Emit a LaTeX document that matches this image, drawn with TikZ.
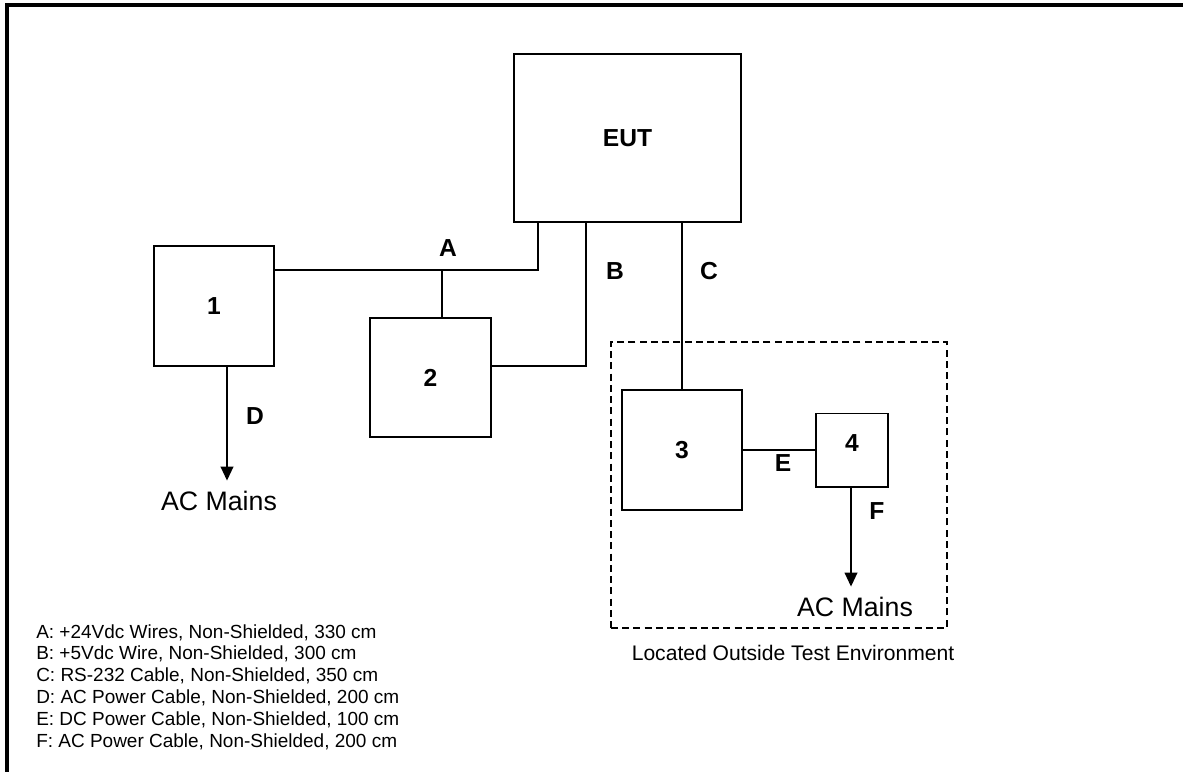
\documentclass[tikz,border=0pt]{standalone}
\usepackage{fontspec}
\setmainfont{Liberation Sans}
\usetikzlibrary{arrows.meta}
\tikzset{
  unit/.style={draw, line width=1.4pt, inner sep=0pt, font=\fontsize{17.5}{20}\selectfont\bfseries},
  cable/.style={line width=1.4pt},
  feed/.style={cable, -{Triangle[length=10pt, width=9pt]}, shorten >=4pt},
  tag/.style={font=\fontsize{17.5}{20}\selectfont\bfseries},
  mains/.style={font=\fontsize{19}{20}\selectfont},
  note/.style={font=\fontsize{15}{18}\selectfont},
}
\begin{document}
\begin{tikzpicture}[x=0.025cm, y=-0.025cm]
\useasboundingbox (0,0) rectangle (1183,771);
\draw[line width=2.2pt] (7,780) -- (7,5) -- (1190,5);
\node[unit, minimum width=5.675cm, minimum height=4.2cm] (eut) at (627.5,138) {EUT};
\node[unit, minimum size=3cm] (u1) at (214,306) {1};
\node[unit, minimum width=3.025cm, minimum height=2.975cm] (u2) at (430.5,377.5) {2};
\node[unit, minimum size=3cm] (u3) at (682,450) {3};
\node[unit, minimum width=1.8cm, minimum height=1.825cm, text depth=10pt] (u4) at (852,450) {4};
\node[draw, line width=1.4pt, dash pattern=on 5pt off 3pt, minimum width=8.4cm, minimum height=7.15cm] (outside) at (779,485) {};
\node[note] (where) at (793,653) {Located Outside Test Environment};
\node[mains] (mainsD) at (219,501) {AC Mains};
\node[mains] (mainsF) at (855,607) {AC Mains};
\coordinate (ja) at (442,270);
\draw[cable] (u1.east |- ja) -- (ja) -| (eut.south -| 538,0);
\draw[cable] (ja) -- (u2.north -| ja);
\draw[cable] (eut.south -| 586,0) |- (u2.east |- 0,366);
\draw[cable] (eut.south -| u3.north) -- (u3.north);
\draw[cable] (u3.east |- u4.west) -- (u4.west);
\draw[feed] (u1.south -| 227,0) -- (mainsD.north -| 227,0);
\draw[feed] (u4.south -| 851,0) -- (mainsF.north -| 851,0);
\node[tag] (la) at (448,248) {A};
\node[tag] (lb) at (615,271) {B};
\node[tag] (lc) at (709,271) {C};
\node[tag] (ld) at (255,416) {D};
\node[tag] (le) at (783,463) {E};
\node[tag] (lf) at (877,511) {F};
\node[anchor=north west, align=left, inner sep=0pt, font=\fontsize{13.5}{15.6}\selectfont] (legend) at (36,624) {A: +24Vdc Wires, Non-Shielded, 330 cm\\
B: +5Vdc Wire, Non-Shielded, 300 cm\\
C: RS-232 Cable, Non-Shielded, 350 cm\\
D: AC Power Cable, Non-Shielded, 200 cm\\
E: DC Power Cable, Non-Shielded, 100 cm\\
F: AC Power Cable, Non-Shielded, 200 cm};
\end{tikzpicture}
\end{document}
